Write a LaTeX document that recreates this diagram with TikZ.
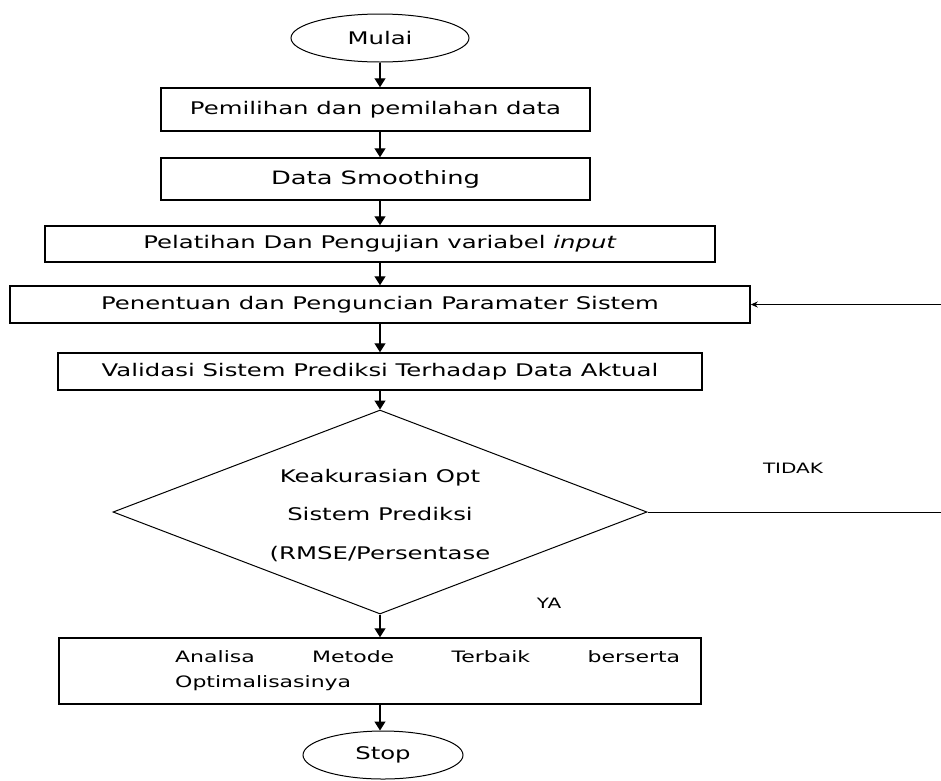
\documentclass[tikz,border=0pt]{standalone}
\usepackage{fontspec}
\setmainfont{DejaVu Sans}[FakeStretch=1.4]
\usetikzlibrary{shapes.geometric,arrows.meta}
\begin{document}
\begin{tikzpicture}[x=1pt,y=-1pt,
  every node/.style={font=\fontsize{17.4pt}{21pt}\selectfont, text=black},
  stepbox/.style={draw, line width=1.5pt, rectangle, inner sep=0pt},
  term/.style={draw, line width=1pt, ellipse, inner sep=0pt},
  decision/.style={draw, line width=1pt, diamond, inner sep=0pt},
  flow/.style={line width=1.3pt, -{Triangle[length=9pt,width=11pt]}},
  back/.style={line width=1pt, -{Stealth[length=7pt,width=6pt]}},
  lbl/.style={font=\fontsize{14.3pt}{16pt}\selectfont}
]
\useasboundingbox (0,0) rectangle (941,780);
\fill[white] (0,0) rectangle (941,780);

% terminals and process steps
\node[term, minimum width=178pt, minimum height=48pt] (start) at (380,38) {Mulai};
\node[stepbox, minimum width=429pt, minimum height=43pt] (b1) at (375.5,109.5) {Pemilihan dan pemilahan data};
\node[stepbox, minimum width=429pt, minimum height=42pt, font=\fontsize{18.4pt}{22pt}\selectfont] (b2) at (375.5,179) {Data Smoothing};
\node[stepbox, minimum width=670pt, minimum height=36pt] (b3) at (380,244) {Pelatihan Dan Pengujian variabel \textit{input}};
\node[stepbox, minimum width=740pt, minimum height=37pt] (b4) at (380,304.5) {Penentuan dan Penguncian Paramater Sistem};
\node[stepbox, minimum width=644pt, minimum height=37pt] (b5) at (380,371.5) {Validasi Sistem Prediksi Terhadap Data Aktual};

% decision
\node[decision, minimum width=534pt, minimum height=204pt] (dec) at (380,512) {};
\node[align=center, font=\fontsize{17.4pt}{38.5pt}\selectfont] (dtext) at (380,515.5)
  {Keakurasian Opt\\Sistem Prediksi\\(RMSE/Persentase};

% final analysis step
\node[stepbox, minimum width=642pt, minimum height=66pt] (b6) at (380,671) {};
\node[anchor=west, align=left, inner sep=0pt, font=\fontsize{15.7pt}{25pt}\selectfont] (b6t) at (175,671)
  {\makebox[505pt][s]{Analisa Metode Terbaik berserta}\\Optimalisasinya};

\node[term, minimum width=160pt, minimum height=48pt] (stop) at (383,755) {Stop};

% branch labels
\node[lbl] (tidak) at (793,468) {TIDAK};
\node[lbl] (ya) at (549,603) {YA};

% main flow
\draw[flow] (start.south) -- (b1.north -| start.south);
\draw[flow] (b1.south -| start.south) -- (b2.north -| start.south);
\draw[flow] (b2.south -| start.south) -- (b3.north -| start.south);
\draw[flow] (b3.south -| start.south) -- (b4.north -| start.south);
\draw[flow] (b4.south -| start.south) -- (b5.north -| start.south);
\draw[flow] (b5.south -| start.south) -- (dec.north);
\draw[flow] (dec.south) -- (b6.north -| dec.south);
\draw[flow] (b6.south -| dec.south) -- (stop.north -| dec.south);

% loop back when accuracy is not reached
\coordinate (loopc) at (944,512);
\draw[back] (dec.east) -- (loopc) |- (b4.east);
\end{tikzpicture}
\end{document}
